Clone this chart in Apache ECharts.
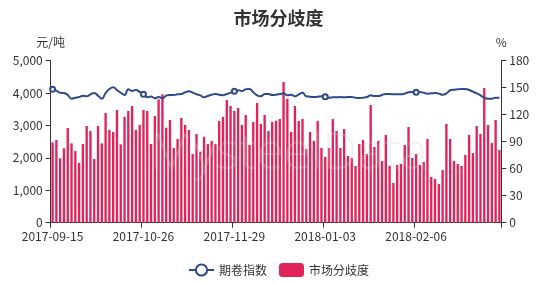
<!DOCTYPE html>
<html>
<head>
<meta charset="utf-8">
<script src="https://cdn.jsdelivr.net/npm/echarts@6/dist/echarts.min.js"></script>
<style>html,body{margin:0;padding:0;background:#fff;}#c{width:557px;height:283px;}</style>
</head>
<body>
<div id="c"></div>
<script>
const titleText = '市场分歧度';
const leftAxisName = '元/吨';
const rightAxisName = '%';
const lineName = '期卷指数';
const barName = '市场分歧度';

const dates = [
'2017-09-15','2017-09-18','2017-09-19','2017-09-20','2017-09-21','2017-09-22','2017-09-25','2017-09-26','2017-09-27','2017-09-28','2017-09-29',
'2017-10-09','2017-10-10','2017-10-11','2017-10-12','2017-10-13','2017-10-16','2017-10-17','2017-10-18','2017-10-19','2017-10-20',
'2017-10-23','2017-10-24','2017-10-25','2017-10-26','2017-10-27','2017-10-30','2017-10-31',
'2017-11-01','2017-11-02','2017-11-03','2017-11-06','2017-11-07','2017-11-08','2017-11-09','2017-11-10',
'2017-11-13','2017-11-14','2017-11-15','2017-11-16','2017-11-17','2017-11-20','2017-11-21','2017-11-22','2017-11-23','2017-11-24',
'2017-11-27','2017-11-28','2017-11-29','2017-11-30',
'2017-12-01','2017-12-04','2017-12-05','2017-12-06','2017-12-07','2017-12-08','2017-12-11','2017-12-12','2017-12-13','2017-12-14','2017-12-15',
'2017-12-18','2017-12-19','2017-12-20','2017-12-21','2017-12-22','2017-12-25','2017-12-26','2017-12-27','2017-12-28','2017-12-29',
'2018-01-02','2018-01-03','2018-01-04','2018-01-05','2018-01-08','2018-01-09','2018-01-10','2018-01-11','2018-01-12',
'2018-01-15','2018-01-16','2018-01-17','2018-01-18','2018-01-19','2018-01-22','2018-01-23','2018-01-24','2018-01-25','2018-01-26',
'2018-01-29','2018-01-30','2018-01-31','2018-02-01','2018-02-02','2018-02-05','2018-02-06','2018-02-07','2018-02-08','2018-02-09',
'2018-02-12','2018-02-13','2018-02-14','2018-02-22','2018-02-23','2018-02-26','2018-02-27','2018-02-28',
'2018-03-01','2018-03-02','2018-03-05','2018-03-06','2018-03-07','2018-03-08','2018-03-09',
'2018-03-12','2018-03-13','2018-03-14','2018-03-15'
];

const divergence = [
2480,2552,1986,2295,2922,2449,2212,1842,2428,2984,2830,1965,2984,2449,3385,2861,2799,3478,2418,
3271,3447,3601,2861,3015,3478,3447,2428,3292,3807,3962,2932,3169,2305,2583,3231,3015,2861,2120,2737,
2191,2654,2428,2521,2428,3138,3262,3786,3601,3447,3540,3015,3324,2398,3108,3694,3046,3324,2830,3108,
3148,3200,4342,3827,2799,3601,3138,3200,2274,2799,2521,3138,2305,2027,2305,3200,2830,2305,2892,2058,
1997,1750,2428,2552,2120,3632,2336,2521,1904,2706,1750,1225,1781,1811,2398,2953,1997,2120,1781,1873,
2583,1410,1349,1194,1626,3046,2583,1904,1811,1750,2089,2706,2151,2984,2737,4157,3015,2459,3169,2243
];

const futuresIndex = [
148.2,146.7,144.4,144.1,141.9,137.8,138.9,139.6,141.1,140.4,142.6,144.1,141.1,137.8,144.1,148.6,150.4,147.4,144.4,
142.0,148.2,146.4,147.5,145.3,142.7,139.4,140.2,138.3,139.8,138.3,141.2,142.0,142.0,142.7,143.0,144.9,146.0,144.6,142.7,
141.5,139.3,140.8,142.2,143.0,142.2,141.5,143.0,144.5,146.0,147.1,146.3,148.2,148.6,145.0,141.5,140.4,143.0,143.0,141.9,
142.2,143.0,143.7,141.5,142.2,140.4,142.6,144.4,140.4,140.0,139.6,140.0,140.4,140.0,138.9,139.3,139.3,139.6,139.3,139.6,
139.6,138.9,138.5,138.9,139.6,141.5,140.7,140.7,141.9,143.0,143.0,142.6,142.6,142.6,143.4,144.9,145.2,144.9,145.2,144.4,
143.4,143.7,144.1,143.4,142.2,143.7,147.1,147.8,148.2,148.6,148.6,147.4,145.6,143.7,141.5,138.9,137.8,137.8,138.9,138.9
];

const leftTicks = {min: 0, max: 5000, interval: 1000};
const rightTicks = {min: 0, max: 180, interval: 30};

const font = '"Noto Sans CJK SC", "Noto Sans", sans-serif';
const chart = echarts.init(document.getElementById('c'), null, {renderer: 'canvas'});
chart.setOption({
  backgroundColor: '#fff',
  animation: false,
  textStyle: {fontFamily: font},
  title: {
    text: titleText, left: 'center', top: 4,
    textStyle: {fontSize: 18, fontWeight: 'bold', color: '#333', fontFamily: font}
  },
  graphic: [{
    type: 'text', left: 150, top: 130, z: 100, silent: true,
    style: {text: 'MysteelData', fontSize: 50, fontFamily: 'Open Sans, sans-serif', fontWeight: 300, fill: 'rgba(210,210,210,0.28)'}
  }],
  legend: {
    data: [lineName, barName], bottom: 1, left: 'center',
    itemWidth: 25, itemHeight: 14, itemGap: 12,
    textStyle: {fontSize: 12, color: '#333', fontFamily: font}
  },
  grid: {left: 50.7, right: 55.7, top: 60.7, bottom: 60.3, containLabel: false},
  xAxis: {
    type: 'category', data: dates, boundaryGap: true,
    axisLine: {lineStyle: {color: '#333'}},
    axisTick: {show: true, lineStyle: {color: '#333'}},
    axisLabel: {interval: 23, color: '#333', fontSize: 12, margin: 8, fontFamily: font}
  },
  yAxis: [{
    type: 'value', name: leftAxisName, nameLocation: 'end', nameGap: 12,
    nameTextStyle: {color: '#333', fontSize: 12, align: 'center', fontFamily: font},
    min: leftTicks.min, max: leftTicks.max, interval: leftTicks.interval,
    axisLine: {show: true, lineStyle: {color: '#333'}},
    axisTick: {show: true, lineStyle: {color: '#333'}},
    splitLine: {show: false},
    axisLabel: {color: '#333', fontSize: 12, margin: 8, fontFamily: font}
  }, {
    type: 'value', name: rightAxisName, nameLocation: 'end', nameGap: 12, position: 'right',
    nameTextStyle: {color: '#333', fontSize: 12, align: 'center', fontFamily: font},
    min: rightTicks.min, max: rightTicks.max, interval: rightTicks.interval,
    axisLine: {show: true, lineStyle: {color: '#333'}},
    axisTick: {show: true, lineStyle: {color: '#333'}},
    splitLine: {show: false},
    axisLabel: {color: '#333', fontSize: 12, margin: 8, fontFamily: font}
  }],
  series: [{
    name: barName, type: 'bar', yAxisIndex: 0, data: divergence,
    barCategoryGap: '38%',
    itemStyle: {color: '#e2225a'}
  }, {
    name: lineName, type: 'line', yAxisIndex: 1, data: futuresIndex,
    smooth: true, symbol: 'emptyCircle', symbolSize: 5,
    itemStyle: {color: '#2e4a8c'},
    lineStyle: {width: 2, color: '#2e4a8c'}
  }]
});
</script>
</body>
</html>
